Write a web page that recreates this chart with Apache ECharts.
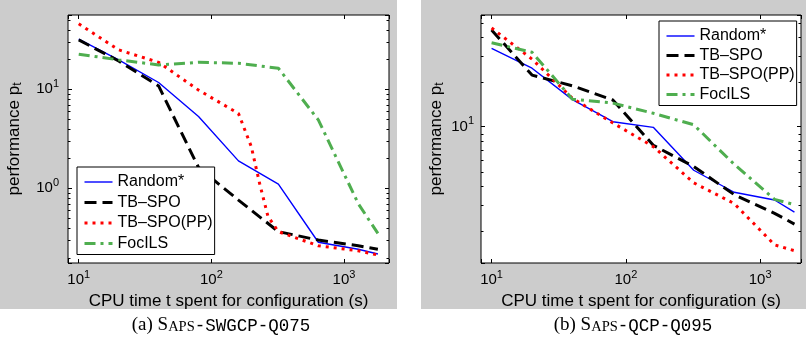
<!DOCTYPE html>
<html>
<head>
<meta charset="utf-8">
<script src="https://cdn.jsdelivr.net/npm/echarts@6/dist/echarts.min.js"></script>
<style>html,body{margin:0;padding:0;background:#fff}#c{width:806px;height:347px}</style>
</head>
<body>
<div id="c"></div>
<script>
// ---------- data ----------
const seriesNames = ['Random*', 'TB\u2013SPO', 'TB\u2013SPO(PP)', 'FocILS'];
const timesX = [10, 20, 40, 80, 160, 320, 640, 1280, 1800];

// (a) Saps-SWGCP-q075
const aRandom = [32, 19.8, 11.7, 5.3, 1.89, 1.1, 0.285, 0.242, 0.217];
const aTbspo  = [31.5, 19.3, 10.8, 1.62, 0.76, 0.365, 0.30, 0.263, 0.242];
const aPpX    = [10, 20, 40, 80, 160, 200, 231, 267, 320, 640, 1280, 1800];
const aPp     = [45.8, 25, 18.7, 9.8, 5.7, 2.63, 1.12, 0.52, 0.365, 0.263, 0.234, 0.212];
const aFoc    = [22.6, 19.8, 17.6, 18.7, 18.3, 16.3, 4.9, 0.70, 0.35];

// (b) Saps-QCP-q095
const bRandom = [33.6, 24.7, 15.2, 10.8, 9.9, 5.1, 3.63, 3.22, 2.67];
const bTbspo  = [44.6, 22.2, 18.8, 15.1, 7.5, 5.4, 3.5, 2.62, 2.22];
const bPp     = [46, 28.4, 15.5, 10.6, 7.35, 4.2, 3.05, 1.61, 1.47];
const bFoc    = [36.6, 31.6, 15.3, 14.4, 12.3, 10.3, 5.6, 3.25, 3.0];

const aXRange = [8.3, 2183];
const aYRange = [0.176, 56.2];
const bXRange = [8.34, 2014];
const bYRange = [1.216, 56.2];
const aMinorY = [0.2,0.3,0.4,0.5,0.6,0.7,0.8,0.9,2,3,4,5,6,7,8,9,20,30,40,50];
const bMinorY = [2,3,4,5,6,7,8,9,20,30,40,50];

const xName = 'CPU time t spent for configuration (s)';
const captionA = ['(a)', 'S', 'APS', '-SWGCP-Q075'];
const captionB = ['(b)', 'S', 'APS', '-QCP-Q095'];

// ---------- styles ----------
const FONT = 'Liberation Sans';
const styles = [
  { color: '#0000ff', width: 1.4, type: 'solid' },
  { color: '#000000', width: 3, type: [12, 6] },
  { color: '#ff0000', width: 3, type: [3, 5] },
  { color: '#4fae4f', width: 3, type: [11, 5, 3, 5] }
];

function zip(xs, ys) { return xs.map((x, i) => [x, ys[i]]); }

function powLabel(v) {
  const e = Math.log10(v), r = Math.round(e);
  if (Math.abs(e - r) > 1e-6) return '';
  return '{b|10}{s|' + r + '}';
}
const labelRich = {
  b: { fontSize: 15, fontFamily: FONT, color: '#000' },
  s: { fontSize: 11, fontFamily: FONT, color: '#000', padding: [0, 0, 11, 0] }
};

function xAxes(gi, range) {
  return [
    { type: 'log', gridIndex: gi, min: range[0], max: range[1], logBase: 10,
      name: xName, nameLocation: 'middle', nameGap: 25,
      nameTextStyle: { fontSize: 17, fontFamily: FONT, color: '#000' },
      axisLine: { show: false }, splitLine: { show: false },
      axisTick: { inside: true, length: 4, lineStyle: { color: '#000' } },
      axisLabel: { formatter: powLabel, rich: labelRich, margin: 6, showMinLabel: true, showMaxLabel: true } },
    { type: 'log', gridIndex: gi, position: 'top', min: range[0], max: range[1], logBase: 10,
      axisLine: { show: false }, splitLine: { show: false },
      axisTick: { inside: true, length: 4, lineStyle: { color: '#000' } },
      axisLabel: { show: false } }
  ];
}
function yAxes(gi, range, gap, margin) {
  return [
    { type: 'log', gridIndex: gi, min: range[0], max: range[1], logBase: 10,
      name: '{a|performance p}{t|t}', nameLocation: 'middle', nameGap: gap,
      nameTextStyle: { rich: {
        a: { fontSize: 17, fontFamily: FONT, color: '#000' },
        t: { fontSize: 12, fontFamily: FONT, color: '#000', padding: [8, 0, 0, 0] } } },
      axisLine: { show: false }, splitLine: { show: false },
      axisTick: { inside: true, length: 4, lineStyle: { color: '#000' } },
      axisLabel: { formatter: powLabel, rich: labelRich, margin: margin } },
    { type: 'log', gridIndex: gi, position: 'right', min: range[0], max: range[1], logBase: 10,
      axisLine: { show: false }, splitLine: { show: false },
      axisTick: { inside: true, length: 4, lineStyle: { color: '#000' } },
      axisLabel: { show: false } }
  ];
}

function lineSeries(name, idx, data, axisIdx) {
  const s = styles[idx];
  return { type: 'line', name: name, data: data, xAxisIndex: axisIdx, yAxisIndex: axisIdx,
    symbol: 'none', smooth: false, silent: true, animation: false, z: 3,
    lineStyle: { color: s.color, width: s.width, type: s.type, cap: 'butt' },
    itemStyle: { color: s.color } };
}

function minorTicks(values, xRange, axisIdx) {
  return { type: 'custom', xAxisIndex: axisIdx, yAxisIndex: axisIdx, silent: true, clip: false,
    animation: false, z: 4,
    data: values.map(v => [xRange[0], v]),
    renderItem: function (params, api) {
      const v = api.value(1);
      const a = api.coord([xRange[0], v]);
      const b = api.coord([xRange[1], v]);
      const y = Math.round(a[1]) + 0.5;
      return { type: 'group', children: [
        { type: 'line', shape: { x1: a[0], y1: y, x2: a[0] + 2.5, y2: y }, style: { stroke: '#000', lineWidth: 1 } },
        { type: 'line', shape: { x1: b[0] - 2.5, y1: y, x2: b[0], y2: y }, style: { stroke: '#000', lineWidth: 1 } }
      ] };
    } };
}

function legend(left, top, gap) {
  return { orient: 'vertical', left: left, top: top, itemWidth: 28, itemHeight: 14, itemGap: gap,
    padding: [7, 2, 3, 6], borderColor: '#000', borderWidth: 1, backgroundColor: '#fff',
    selectedMode: false,
    data: seriesNames.map((n, i) => ({
      name: n,
      lineStyle: { color: styles[i].color, width: styles[i].width, type: styles[i].type, cap: 'butt' },
      itemStyle: { color: 'rgba(0,0,0,0)', borderWidth: 0, opacity: 0 }
    })),
    textStyle: { fontSize: 16, fontFamily: FONT, color: '#000' } };
}

function caption(x, parts) {
  return { type: 'text', x: x, y: 325, z: 10,
    style: { text: '{p|' + parts[0] + ' }{s|' + parts[1] + '}{c|' + parts[2] + '}{m|' + parts[3] + '}',
      align: 'center', verticalAlign: 'middle',
      rich: {
        p: { fontSize: 19, fontFamily: 'Liberation Serif', color: '#000', verticalAlign: 'bottom', lineHeight: 20 },
        s: { fontSize: 19, fontFamily: 'Liberation Serif', color: '#000', verticalAlign: 'bottom', lineHeight: 20 },
        c: { fontSize: 14.5, fontFamily: 'Liberation Serif', color: '#000', verticalAlign: 'bottom', lineHeight: 17 },
        m: { fontSize: 17.5, fontFamily: 'Liberation Mono', color: '#000', verticalAlign: 'bottom', lineHeight: 19 }
      } } };
}

const chart = echarts.init(document.getElementById('c'), null, { renderer: 'canvas' });
chart.setOption({
  animation: false,
  backgroundColor: '#fff',
  graphic: [
    { type: 'rect', shape: { x: 0, y: 0, width: 397, height: 309 }, style: { fill: '#cccccc' }, z: -10 },
    { type: 'rect', shape: { x: 421, y: 0, width: 385, height: 309 }, style: { fill: '#cccccc' }, z: -10 },
    caption(221, captionA),
    caption(633, captionB)
  ],
  grid: [
    { left: 68, top: 15, width: 321, height: 248, show: true, backgroundColor: '#fff', borderColor: '#000', borderWidth: 1 },
    { left: 481, top: 15, width: 320, height: 248, show: true, backgroundColor: '#fff', borderColor: '#000', borderWidth: 1 }
  ],
  legend: [legend(77, 167, 4.5), legend(659, 21, 3.5)],
  xAxis: xAxes(0, aXRange).concat(xAxes(1, bXRange)),
  yAxis: yAxes(0, aYRange, 44, 9).concat(yAxes(1, bYRange, 35, 7)),
  series: [
    lineSeries(seriesNames[0], 0, zip(timesX, aRandom), 0),
    lineSeries(seriesNames[1], 1, zip(timesX, aTbspo), 0),
    lineSeries(seriesNames[2], 2, zip(aPpX, aPp), 0),
    lineSeries(seriesNames[3], 3, zip(timesX, aFoc), 0),
    minorTicks(aMinorY, aXRange, 0),
    lineSeries(seriesNames[0], 0, zip(timesX, bRandom), 2),
    lineSeries(seriesNames[1], 1, zip(timesX, bTbspo), 2),
    lineSeries(seriesNames[2], 2, zip(timesX, bPp), 2),
    lineSeries(seriesNames[3], 3, zip(timesX, bFoc), 2),
    minorTicks(bMinorY, bXRange, 2)
  ]
});
</script>
</body>
</html>
